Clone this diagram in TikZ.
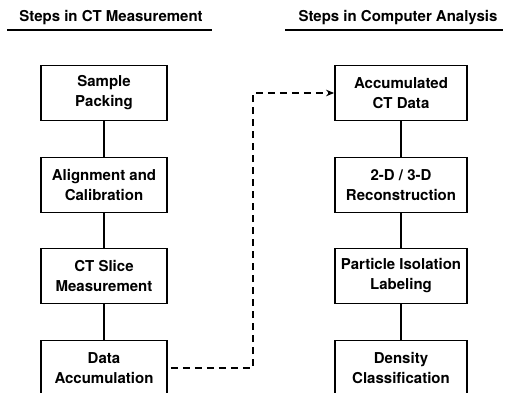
\documentclass[tikz,border=0pt]{standalone}
\usepackage{fontspec}
\setmainfont{TeX Gyre Heros}
\usetikzlibrary{positioning,arrows.meta,calc}

\begin{document}
\begin{tikzpicture}[x=1pt, y=-1pt, >={Stealth[length=8pt,width=6.5pt]},
  font=\fontsize{15}{20}\selectfont\bfseries,
  stage/.style={draw, line width=1.8pt, align=center, minimum height=55pt, inner sep=2pt},
  link/.style={line width=2pt},
  rule/.style={line width=2.2pt},
  flow/.style={->, line width=2pt, dash pattern=on 7pt off 5pt, shorten <=3pt}]
  \useasboundingbox (0,0) rectangle (506,393);
  % column headings
  \node[anchor=base] (meas) at (111,22) {Steps in CT Measurement};
  \node[anchor=base] (anal) at (398,22) {Steps in Computer Analysis};
  \draw[rule] (7,30) -- (212,30);
  \draw[rule] (285,30) -- (503,30);
  % measurement steps
  \node[stage, minimum width=126pt] (pack)  at (104,93)  {Sample\\Packing};
  \node[stage, minimum width=126pt] (calib) at (104,185) {Alignment and\\Calibration};
  \node[stage, minimum width=126pt] (slice) at (104,276) {CT Slice\\Measurement};
  \node[stage, minimum width=126pt] (accum) at (104,368) {Data\\Accumulation};
  % analysis steps
  \node[stage, minimum width=132pt] (ctdata) at (401,93)  {Accumulated\\CT Data};
  \node[stage, minimum width=132pt] (recon)  at (401,185) {2-D / 3-D\\Reconstruction};
  \node[stage, minimum width=132pt] (label)  at (401,276) {Particle Isolation\\Labeling};
  \node[stage, minimum width=132pt] (dens)   at (401,368) {Density\\Classification};
  \draw[link] (pack)--(calib); \draw[link] (calib)--(slice); \draw[link] (slice)--(accum);
  \draw[link] (ctdata)--(recon); \draw[link] (recon)--(label); \draw[link] (label)--(dens);
  % hand-over of the data
  \coordinate (bend) at (253,93);
  \draw[flow] (accum.east) -| (bend) -- (ctdata.west);
\end{tikzpicture}
\end{document}
